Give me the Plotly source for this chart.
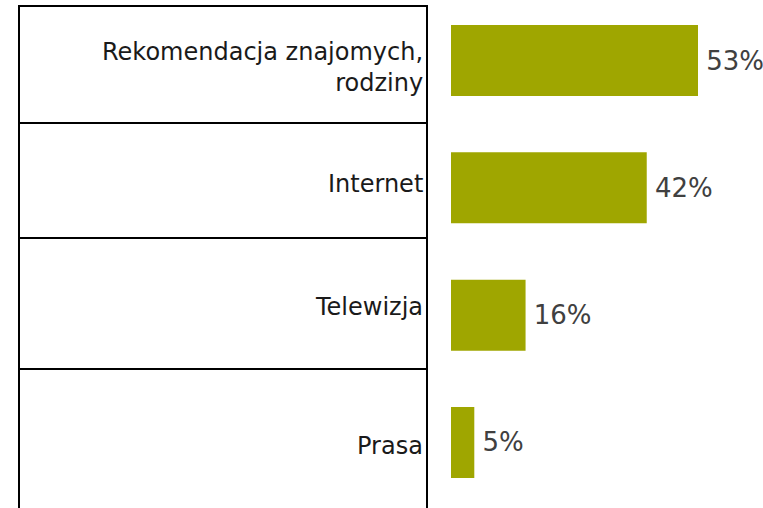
import plotly.graph_objects as go

# Survey: sources of information (share of respondents, %)
categories = ["Rekomendacja znajomych,<br>rodziny", "Internet", "Telewizja", "Prasa"]
values = [53, 42, 16, 5]
value_labels = [f"\u2009{v}%" for v in values]

W, H = 763, 508
PLOT_LEFT = 451          # pixel where the value axis starts
PX_PER_UNIT = 247 / 53   # horizontal scale of the bars
BAR_PITCH = 127.33       # vertical distance between bar centres (px)
FIRST_BAR_CENTER = 60.5

# label table on the left (pixel geometry)
TABLE_LEFT, TABLE_RIGHT = 19, 427
ROW_EDGES = [6, 123, 238, 369, 520]

BAR_COLOR = "#9FA600"
FONT = "DejaVu Sans"

plot_w = W - PLOT_LEFT
x_max = plot_w / PX_PER_UNIT
y_top = -FIRST_BAR_CENTER / BAR_PITCH
y_bottom = y_top + H / BAR_PITCH


def px_x(p):
    return (p - PLOT_LEFT) / plot_w


def px_y(p):
    return 1 - p / H


fig = go.Figure(
    go.Bar(
        x=values,
        y=list(range(len(categories))),
        orientation="h",
        marker=dict(color=BAR_COLOR, line=dict(width=0)),
        width=71 / BAR_PITCH,
        text=value_labels,
        textposition="outside",
        textfont=dict(family=FONT, size=26, color="#404040"),
        cliponaxis=False,
        hoverinfo="skip",
    )
)

shapes = []
line = dict(color="#000000", width=2)
# outer frame of the label table
shapes.append(dict(type="rect", xref="paper", yref="paper",
                   x0=px_x(TABLE_LEFT), x1=px_x(TABLE_RIGHT),
                   y0=px_y(ROW_EDGES[-1]), y1=px_y(ROW_EDGES[0]),
                   line=line, fillcolor="rgba(0,0,0,0)", layer="above"))
# row separators
for edge in ROW_EDGES[1:-1]:
    shapes.append(dict(type="line", xref="paper", yref="paper",
                       x0=px_x(TABLE_LEFT), x1=px_x(TABLE_RIGHT),
                       y0=px_y(edge), y1=px_y(edge), line=line))

annotations = []
for i, cat in enumerate(categories):
    center = (ROW_EDGES[i] + min(ROW_EDGES[i + 1], 517)) / 2 + 3
    annotations.append(dict(
        text=cat, xref="paper", yref="paper",
        x=px_x(TABLE_RIGHT - 2), y=px_y(center),
        xanchor="right", yanchor="middle", align="right",
        showarrow=False,
        font=dict(family=FONT, size=24, color="#1a1a1a"),
    ))

fig.update_layout(
    width=W, height=H,
    margin=dict(l=PLOT_LEFT, r=0, t=0, b=0),
    paper_bgcolor="white", plot_bgcolor="white",
    showlegend=False,
    shapes=shapes,
    annotations=annotations,
    xaxis=dict(range=[0, x_max], visible=False, fixedrange=True),
    yaxis=dict(range=[y_bottom, y_top], visible=False, fixedrange=True),
)

fig.write_html("out.html")
